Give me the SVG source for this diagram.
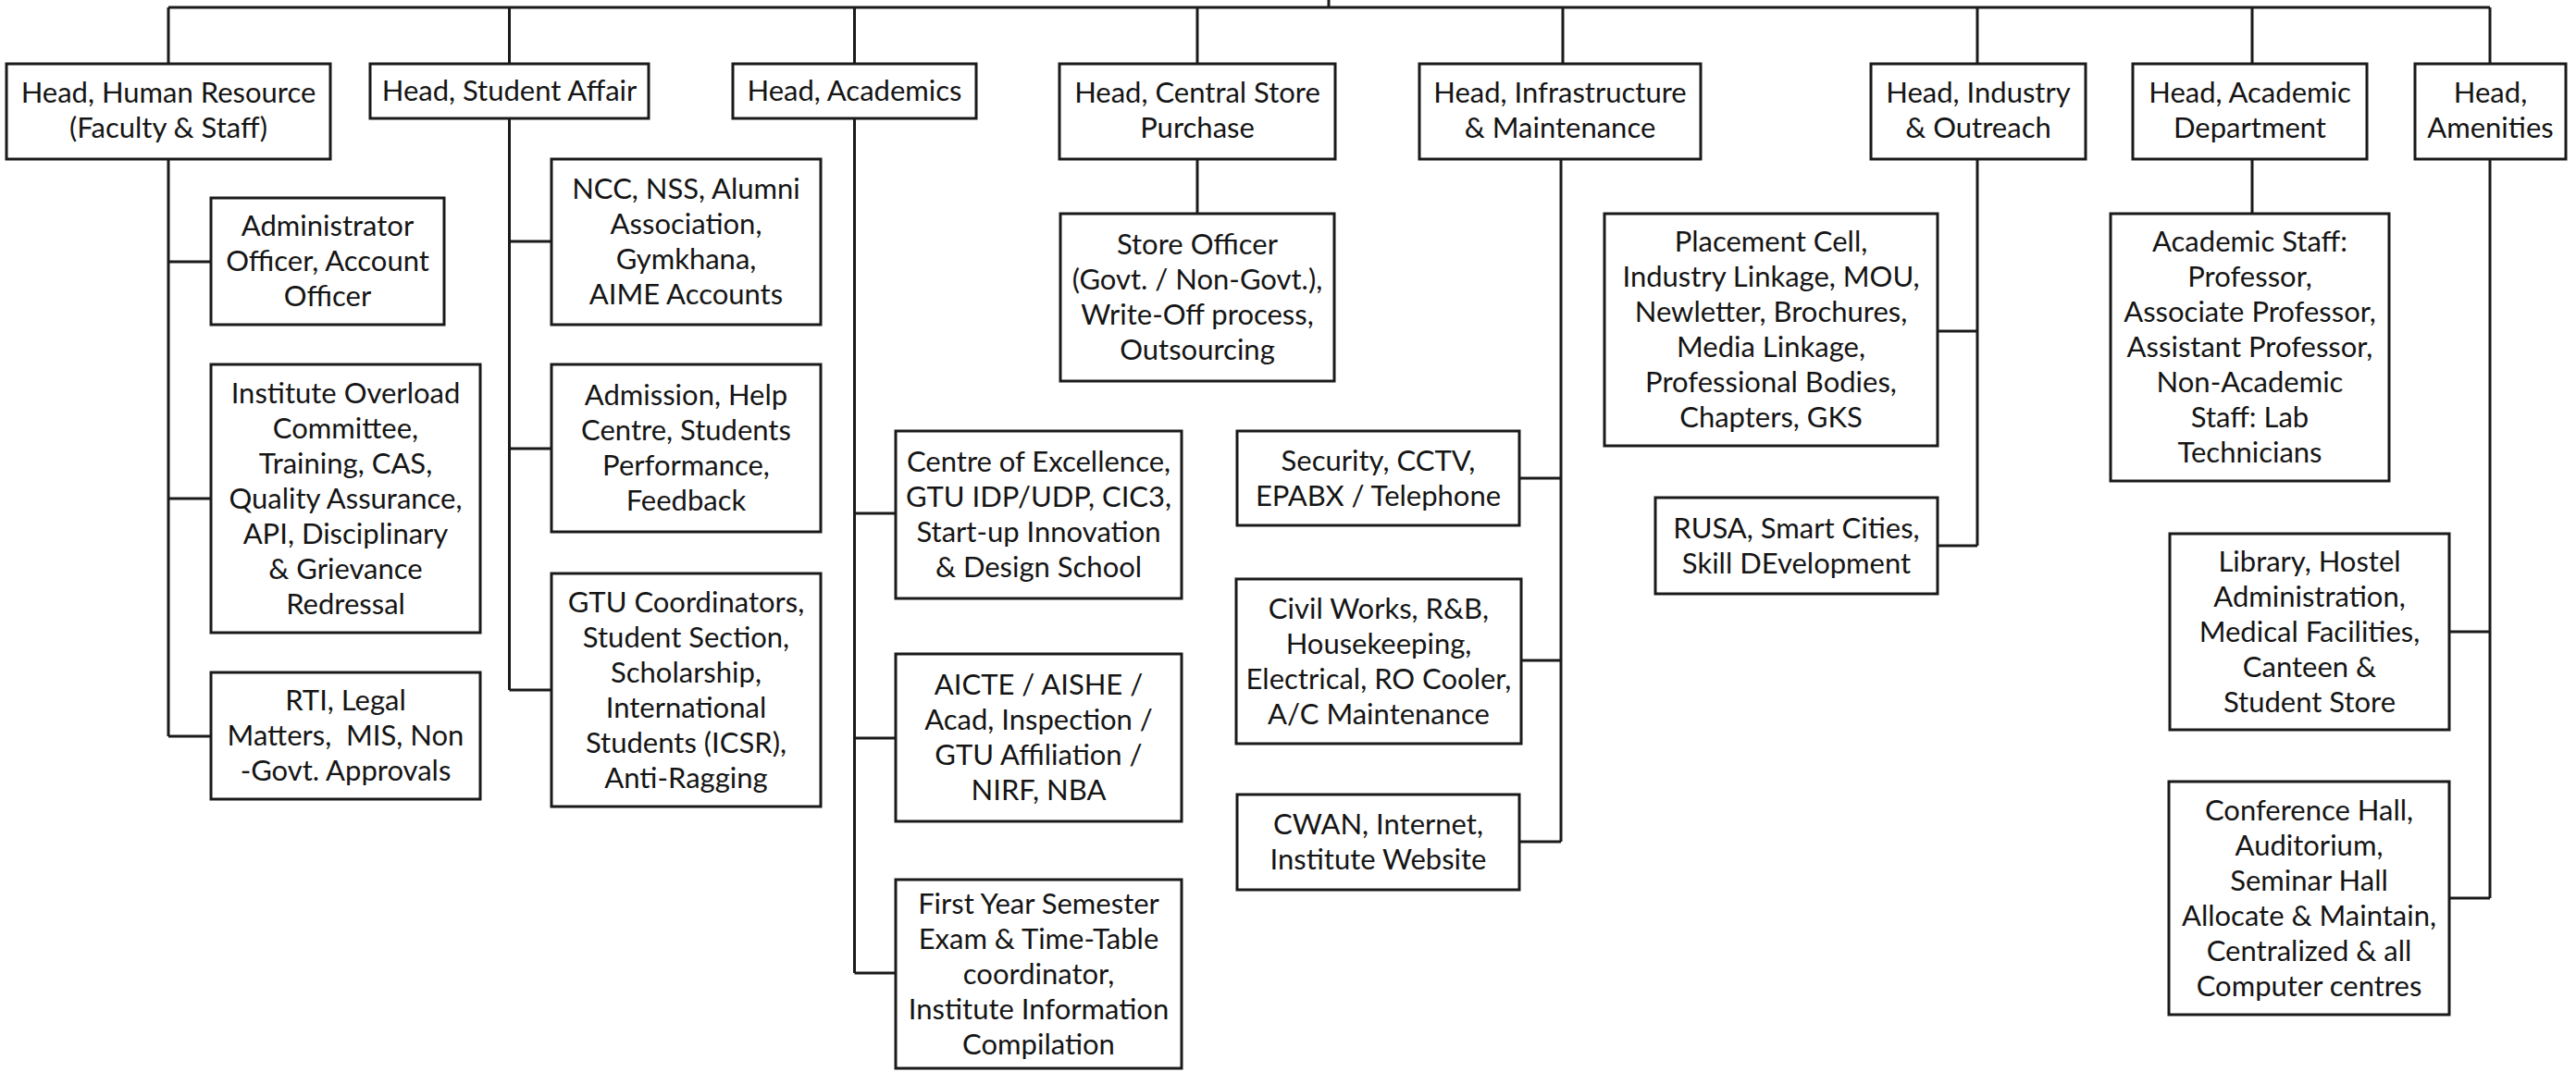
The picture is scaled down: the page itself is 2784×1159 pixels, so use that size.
<svg xmlns="http://www.w3.org/2000/svg" width="2784" height="1159" viewBox="0 0 2784 1159">
<style>
.bg{fill:#fff}
.box{fill:#fff;stroke:#1a1a1a;stroke-width:3}
.ln{fill:none;stroke:#1a1a1a;stroke-width:3}
text{font-family:Lato,"Liberation Sans",sans-serif;font-size:31px;fill:#151515;text-anchor:middle}
</style>
<rect class="bg" x="0" y="0" width="2784" height="1159"/>
<g id="connectors">
<path class="ln" d="M1436 0V8M182 8H2691M182 8V69M550.5 8V69M923.5 8V69M1294 8V69M1689 8V69M2137 8V69M2434 8V69M2691 8V69"/>
<path class="ln" d="M182 172V796M182 283H228M182 539H228M182 796H228"/>
<path class="ln" d="M550.5 128V746M550.5 261H596M550.5 485H596M550.5 746H596"/>
<path class="ln" d="M923.5 128V1052M923.5 555H968M923.5 798H968M923.5 1052H968"/>
<path class="ln" d="M1294 172V231"/>
<path class="ln" d="M1687 172V910M1642 517H1687M1644 714H1687M1642 910H1687"/>
<path class="ln" d="M2137 172V590M2094 358H2137M2094 590H2137"/>
<path class="ln" d="M2434 172V231"/>
<path class="ln" d="M2691 172V971M2647 683H2691M2647 971H2691"/>
</g>
<g id="head-hr"><rect class="box" x="7" y="69" width="350" height="103"/><text x="182" y="111">Head, Human Resource<tspan x="182" dy="38">(Faculty &amp; Staff)</tspan></text></g>
<g id="head-sa"><rect class="box" x="400" y="69" width="301" height="59"/><text x="550.5" y="109">Head, Student Affair</text></g>
<g id="head-acad"><rect class="box" x="792" y="69" width="263" height="59"/><text x="923.5" y="109">Head, Academics</text></g>
<g id="head-store"><rect class="box" x="1145" y="69" width="298" height="103"/><text x="1294" y="111">Head, Central Store<tspan x="1294" dy="38">Purchase</tspan></text></g>
<g id="head-infra"><rect class="box" x="1534" y="69" width="304" height="103"/><text x="1686" y="111">Head, Infrastructure<tspan x="1686" dy="38">&amp; Maintenance</tspan></text></g>
<g id="head-industry"><rect class="box" x="2022" y="69" width="232" height="103"/><text x="2138" y="111">Head, Industry<tspan x="2138" dy="38">&amp; Outreach</tspan></text></g>
<g id="head-acaddept"><rect class="box" x="2305" y="69" width="253" height="103"/><text x="2431.5" y="111">Head, Academic<tspan x="2431.5" dy="38">Department</tspan></text></g>
<g id="head-amenities"><rect class="box" x="2610" y="69" width="163" height="103"/><text x="2691.5" y="111">Head,<tspan x="2691.5" dy="38">Amenities</tspan></text></g>

<g id="hr-admin"><rect class="box" x="228" y="214" width="252" height="137"/><text x="354" y="255">Administrator<tspan x="354" dy="38">Officer, Account</tspan><tspan x="354" dy="38">Officer</tspan></text></g>
<g id="hr-overload"><rect class="box" x="228" y="394" width="291" height="290"/><text x="373.5" y="435.5">Institute Overload<tspan x="373.5" dy="38">Committee,</tspan><tspan x="373.5" dy="38">Training, CAS,</tspan><tspan x="373.5" dy="38">Quality Assurance,</tspan><tspan x="373.5" dy="38">API, Disciplinary</tspan><tspan x="373.5" dy="38">&amp; Grievance</tspan><tspan x="373.5" dy="38">Redressal</tspan></text></g>
<g id="hr-rti"><rect class="box" x="228" y="727" width="291" height="137"/><text x="373.5" y="768" xml:space="preserve">RTI, Legal<tspan x="373.5" dy="38">Matters,  MIS, Non</tspan><tspan x="373.5" dy="38">-Govt. Approvals</tspan></text></g>

<g id="sa-ncc"><rect class="box" x="596" y="172" width="291" height="179"/><text x="741.5" y="215">NCC, NSS, Alumni<tspan x="741.5" dy="38">Association,</tspan><tspan x="741.5" dy="38">Gymkhana,</tspan><tspan x="741.5" dy="38">AIME Accounts</tspan></text></g>
<g id="sa-admission"><rect class="box" x="596" y="394" width="291" height="181"/><text x="741.5" y="438">Admission, Help<tspan x="741.5" dy="38">Centre, Students</tspan><tspan x="741.5" dy="38">Performance,</tspan><tspan x="741.5" dy="38">Feedback</tspan></text></g>
<g id="sa-gtu"><rect class="box" x="596" y="620" width="291" height="252"/><text x="741.5" y="661.5">GTU Coordinators,<tspan x="741.5" dy="38">Student Section,</tspan><tspan x="741.5" dy="38">Scholarship,</tspan><tspan x="741.5" dy="38">International</tspan><tspan x="741.5" dy="38">Students (ICSR),</tspan><tspan x="741.5" dy="38">Anti-Ragging</tspan></text></g>

<g id="acad-coe"><rect class="box" x="968" y="466" width="309" height="181"/><text x="1122.5" y="510">Centre of Excellence,<tspan x="1122.5" dy="38">GTU IDP/UDP, CIC3,</tspan><tspan x="1122.5" dy="38">Start-up Innovation</tspan><tspan x="1122.5" dy="38">&amp; Design School</tspan></text></g>
<g id="acad-aicte"><rect class="box" x="968" y="707" width="309" height="181"/><text x="1122.5" y="751">AICTE / AISHE /<tspan x="1122.5" dy="38">Acad, Inspection /</tspan><tspan x="1122.5" dy="38">GTU Affiliation /</tspan><tspan x="1122.5" dy="38">NIRF, NBA</tspan></text></g>
<g id="acad-firstyear"><rect class="box" x="968" y="951" width="309" height="204"/><text x="1122.5" y="987.5">First Year Semester<tspan x="1122.5" dy="38">Exam &amp; Time-Table</tspan><tspan x="1122.5" dy="38">coordinator,</tspan><tspan x="1122.5" dy="38">Institute Information</tspan><tspan x="1122.5" dy="38">Compilation</tspan></text></g>

<g id="store-officer"><rect class="box" x="1146" y="231" width="296" height="181"/><text x="1294" y="275">Store Officer<tspan x="1294" dy="38">(Govt. / Non-Govt.),</tspan><tspan x="1294" dy="38">Write-Off process,</tspan><tspan x="1294" dy="38">Outsourcing</tspan></text></g>

<g id="infra-security"><rect class="box" x="1337" y="466" width="305" height="102"/><text x="1489.5" y="508.5">Security, CCTV,<tspan x="1489.5" dy="38">EPABX / Telephone</tspan></text></g>
<g id="infra-civil"><rect class="box" x="1336" y="626" width="308" height="178"/><text x="1490" y="668.5">Civil Works, R&amp;B,<tspan x="1490" dy="38">Housekeeping,</tspan><tspan x="1490" dy="38">Electrical, RO Cooler,</tspan><tspan x="1490" dy="38">A/C Maintenance</tspan></text></g>
<g id="infra-cwan"><rect class="box" x="1337" y="859" width="305" height="103"/><text x="1489.5" y="902">CWAN, Internet,<tspan x="1489.5" dy="38">Institute Website</tspan></text></g>

<g id="ind-placement"><rect class="box" x="1734" y="231" width="360" height="251"/><text x="1914" y="272">Placement Cell,<tspan x="1914" dy="38">Industry Linkage, MOU,</tspan><tspan x="1914" dy="38">Newletter, Brochures,</tspan><tspan x="1914" dy="38">Media Linkage,</tspan><tspan x="1914" dy="38">Professional Bodies,</tspan><tspan x="1914" dy="38">Chapters, GKS</tspan></text></g>
<g id="ind-rusa"><rect class="box" x="1789" y="538" width="305" height="104"/><text x="1941.5" y="581.5">RUSA, Smart Cities,<tspan x="1941.5" dy="38">Skill DEvelopment</tspan></text></g>

<g id="dept-staff"><rect class="box" x="2281" y="231" width="301" height="289"/><text x="2431.5" y="272">Academic Staff:<tspan x="2431.5" dy="38">Professor,</tspan><tspan x="2431.5" dy="38">Associate Professor,</tspan><tspan x="2431.5" dy="38">Assistant Professor,</tspan><tspan x="2431.5" dy="38">Non-Academic</tspan><tspan x="2431.5" dy="38">Staff: Lab</tspan><tspan x="2431.5" dy="38">Technicians</tspan></text></g>

<g id="amen-library"><rect class="box" x="2345" y="577" width="302" height="212"/><text x="2496" y="617.5">Library, Hostel<tspan x="2496" dy="38">Administration,</tspan><tspan x="2496" dy="38">Medical Facilities,</tspan><tspan x="2496" dy="38">Canteen &amp;</tspan><tspan x="2496" dy="38">Student Store</tspan></text></g>
<g id="amen-conference"><rect class="box" x="2344" y="845" width="303" height="252"/><text x="2495.5" y="886.5">Conference Hall,<tspan x="2495.5" dy="38">Auditorium,</tspan><tspan x="2495.5" dy="38">Seminar Hall</tspan><tspan x="2495.5" dy="38">Allocate &amp; Maintain,</tspan><tspan x="2495.5" dy="38">Centralized &amp; all</tspan><tspan x="2495.5" dy="38">Computer centres</tspan></text></g>
</svg>
